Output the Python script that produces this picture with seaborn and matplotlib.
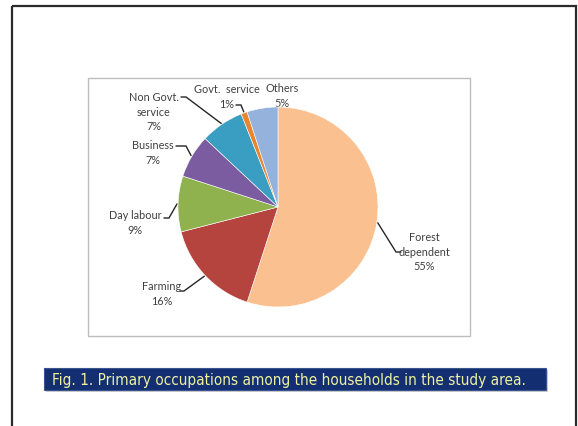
import numpy as np
import matplotlib
matplotlib.use("Agg")
import matplotlib.pyplot as plt
from matplotlib.patches import Rectangle
import seaborn as sns

# data
occupations = ["Forest\ndependent", "Farming", "Day labour", "Business",
               "Non Govt.\nservice", "Govt.  service", "Others"]
shares = [55, 16, 9, 7, 7, 1, 5]
colours = ["#FAC08F", "#B5443F", "#8FB24F", "#7B5CA0", "#3A9EC2", "#E9842F", "#94B2DC"]

caption = "Fig. 1. Primary occupations among the households in the study area."

sns.set_theme(style="white")
plt.rcParams["font.family"] = ["Lato", "DejaVu Sans"]

W, H = 578, 427
fig = plt.figure(figsize=(W / 100, H / 100), dpi=100)
fig.patch.set_facecolor("white")

# overlay in pixel coordinates for frames, labels and leader lines
ov = fig.add_axes([0, 0, 1, 1])
ov.set_xlim(0, W)
ov.set_ylim(H, 0)
ov.axis("off")

# outer slide frame and chart area frame
ov.add_patch(Rectangle((12, 7), 564, 430, fill=False, ec="#2b2b2b", lw=1.6))
ov.add_patch(Rectangle((88, 79), 382, 258, fill=False, ec="#BDBDBD", lw=1.0))

# pie
cx, cy, r = 278, 208, 100
ax = fig.add_axes([(cx - r) / W, 1 - (cy + r) / H, 2 * r / W, 2 * r / H])
ax.pie(shares, colors=colours, startangle=90, counterclock=False,
       wedgeprops=dict(linewidth=0.4, edgecolor="white"))
ax.set_xlim(-1, 1)
ax.set_ylim(-1, 1)
ax.set_aspect("auto")

# label layout: text centre, and leader path (elbow, end) in pixels
label_pos = [(424, 252), (162, 294), (135, 223), (153, 153), (154, 112), (227, 97), (282, 96)]
leader = [[(396, 253), (401, 253)],
          [(184, 292), (180, 292)],
          [(169, 219), (164, 219)],
          [(186, 147), (176, 147)],
          [(186, 98), (181, 98)],
          [(241, 106), (236, 106)],
          None]

txt_col = "#404040"
cum = np.cumsum([0] + shares[:-1])
for name, s, c0, (tx, ty), path in zip(occupations, shares, cum, label_pos, leader):
    mid = np.deg2rad(90 - (c0 + s / 2) * 3.6)
    ex, ey = cx + (r + 1) * np.cos(mid), cy - (r + 1) * np.sin(mid)
    ov.text(tx, ty, f"{name}\n{s}%", ha="center", va="center", fontsize=7.8,
            color=txt_col, linespacing=1.42)
    if path:
        xs = [ex] + [p[0] for p in path]
        ys = [ey] + [p[1] for p in path]
        ov.plot(xs, ys, color="#262626", lw=1.0, solid_joinstyle="miter")

# caption band
ov.add_patch(Rectangle((46, 371), 502, 22, color="#9a9a9a", alpha=0.5, lw=0))
ov.add_patch(Rectangle((44, 369), 502, 22, color="#132F72", lw=0))
ov.add_patch(Rectangle((44, 369), 502, 22, fill=False, ec="#3a5490", lw=0.8))
cap = ov.text(52, 380.5, caption, ha="left", va="center", fontsize=12,
              color="#EEF2A0", family="DejaVu Sans", fontstretch="condensed")

# shrink caption to fit the band width seen in the reference (~471 px)
fig.canvas.draw()
w = cap.get_window_extent().width
cap.set_fontsize(12 * min(1.0, 471 / w))

fig.savefig("out.png", dpi=100)
